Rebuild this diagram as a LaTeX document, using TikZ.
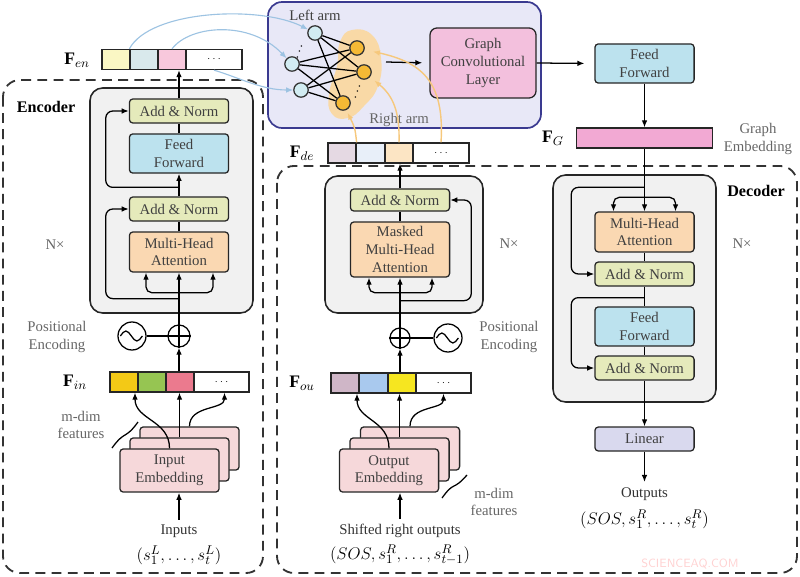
\documentclass[tikz,border=0pt]{standalone}
\usepackage{fontspec}
\setmainfont{Liberation Serif}
\usetikzlibrary{arrows.meta,calc}

\definecolor{addc}{HTML}{E5EABB}
\definecolor{ffc}{HTML}{BCE2EE}
\definecolor{mhac}{HTML}{FAD8B2}
\definecolor{embc}{HTML}{F6D8DA}
\definecolor{linc}{HTML}{D9D9EE}
\definecolor{gclc}{HTML}{F3C0DD}
\definecolor{fgc}{HTML}{F2A9D3}
\definecolor{grayc}{HTML}{F1F1F1}
\definecolor{graphc}{HTML}{E8E8F7}
\definecolor{graphb}{HTML}{3A3A90}
\definecolor{lac}{HTML}{D2ECF2}
\definecolor{rac}{HTML}{F5B935}
\definecolor{haloc}{HTML}{F9D9A6}
\definecolor{bluec}{HTML}{9DC3E2}
\definecolor{orgc}{HTML}{F6C87C}
\definecolor{en1c}{HTML}{FAF7C4}
\definecolor{en2c}{HTML}{D9E9EC}
\definecolor{en3c}{HTML}{F8C8DC}
\definecolor{in1c}{HTML}{F3C916}
\definecolor{in2c}{HTML}{96C552}
\definecolor{in3c}{HTML}{EB7A8E}
\definecolor{de1c}{HTML}{E5D9E3}
\definecolor{de2c}{HTML}{E8EFF9}
\definecolor{de3c}{HTML}{FCE5C4}
\definecolor{ou1c}{HTML}{CFB6C7}
\definecolor{ou2c}{HTML}{A9C9EE}
\definecolor{ou3c}{HTML}{F6E620}

\tikzset{
  blk/.style={draw=black!85, line width=0.9pt, rounded corners=2.5pt, minimum width=2.48cm,
    align=center, text=black!75, font=\fontsize{10.5}{12.5}\selectfont, inner sep=1pt},
  addn/.style={blk, fill=addc, minimum height=0.6cm},
  ffw/.style={blk, fill=ffc, minimum height=0.98cm},
  mha/.style={blk, fill=mhac, minimum height=1cm},
  emb/.style={blk, fill=embc, minimum height=1.08cm},
  fcell/.style={draw=black!85, line width=0.9pt, minimum width=0.7cm, minimum height=0.5cm,
    inner sep=0pt, font=\scriptsize},
  arr/.style={-{Latex[length=5pt,width=4pt]}, line width=0.9pt},
  ln/.style={line width=0.9pt},
  lbl/.style={text=black!60, align=center, font=\fontsize{10.5}{12.5}\selectfont},
  fvec/.style={font=\fontsize{12.5}{15}\selectfont, inner sep=0pt},
  dashreg/.style={draw=black!80, line width=1.3pt, dash pattern=on 7pt off 4.5pt, rounded corners=12pt},
  grayblk/.style={draw=black!85, line width=1.1pt, fill=grayc, rounded corners=9pt},
  larm/.style={circle, draw=black!80, line width=0.9pt, fill=lac, minimum size=0.36cm, inner sep=0pt},
  rarm/.style={larm, fill=rac},
  bluearr/.style={-{Latex[length=5pt,width=4pt]}, draw=bluec, line width=0.8pt},
  orgarr/.style={-{Latex[length=5pt,width=4pt]}, draw=orgc, line width=1pt},
  pe/.style={circle, draw, line width=0.9pt, inner sep=0pt}
}

\begin{document}
\begin{tikzpicture}[x=0.025cm, y=-0.025cm]
        \useasboundingbox (0,0) rectangle (800,577);

        \draw[dashreg] (3,80) rectangle (263,573);
        \draw[dashreg] (277,166) rectangle (797,573);

        \draw[grayblk] (90,88) rectangle (253,313);
        \draw[grayblk] (325,176) rectangle (483,313);
        \draw[grayblk] (553,175) rectangle (716,402);

        \draw[graphb, fill=graphc, line width=1.2pt, rounded corners=10pt] (268,2) rectangle (541,128);
        \fill[haloc] plot[smooth cycle, tension=0.8] coordinates {(352,30) (372,35) (381,58) (378,86) (364,106) (348,118) (332,114) (329,94) (337,66) (340,42)};

        \begin{scope}[every node/.style={larm}]
          \node (l1) at (315,33) {};
          \node (l2) at (292,64) {};
          \node (l3) at (301,90) {};
        \end{scope}
        \begin{scope}[every node/.style={rarm}]
          \node (r1) at (357,48) {};
          \node (r2) at (364,72) {};
          \node (r3) at (343,103) {};
        \end{scope}
        \foreach \a in {l1,l2,l3}
          \foreach \b in {r1,r2,r3}
            \draw[ln] (\a) -- (\b);
        \node[rotate=-20] (d1) at (301,48) {\small$\vdots$};
        \node[rotate=-20] (d2) at (359,88) {\small$\vdots$};
        \node[lbl, text=black!75] (lt) at (315,15) {Left arm};
        \node[lbl] (rt) at (399,120) {Right arm};

        \node[blk, fill=gclc, minimum width=2.65cm, minimum height=1.75cm, rounded corners=5pt] (gcl) at (483,63) {Graph\\Convolutional\\Layer};
        \coordinate (gout) at (386,62);

        % encoder
        \node[addn] (an1) at (179,111) {Add \& Norm};
        \node[ffw]  (ff1) at (179,153.5) {Feed\\Forward};
        \node[addn] (an2) at (179,209) {Add \& Norm};
        \node[mha]  (mh1) at (179,252) {Multi-Head\\Attention};
        \node[pe, minimum size=0.55cm] (pl1) at (179,336) {};
        \node[pe, minimum size=0.7cm]  (si1) at (132,336) {};

        \begin{scope}[every node/.style={fcell}]
          \node[fill=en1c] (en1) at (116,59.5) {};
          \node[fill=en2c] (en2) at (144,59.5) {};
          \node[fill=en3c] (en3) at (172,59.5) {};
          \node[fill=white, minimum width=1.4cm] (en4) at (214,59.5) {$\cdots$};
          \node[fill=in1c] (in1) at (124,382) {};
          \node[fill=in2c] (in2) at (152,382) {};
          \node[fill=in3c] (in3) at (180,382) {};
          \node[fill=white, minimum width=1.375cm] (in4) at (221.5,382) {$\cdots$};
        \end{scope}
        \node[fvec] (enl) at (77,60) {$\mathbf{F}_{en}$};
        \node[fvec] (inl2) at (75,382) {$\mathbf{F}_{in}$};

        \begin{scope}[every node/.style={emb}]
          \node (eb3) at (189.5,448.5) {};
          \node (eb2) at (179.5,459.5) {};
          \node (eb1) at (169.5,470.5) {Input\\Embedding};
        \end{scope}

        \node[font=\bfseries\fontsize{11.5}{13}\selectfont] (encl) at (46,107) {Encoder};
        \node[lbl] (nx1) at (55,245) {N×};
        \node[lbl] (pe1) at (57,337) {Positional\\Encoding};
        \node[lbl] (md1) at (81,425) {m-dim\\features};
        \node[lbl, text=black!80] (inl) at (179,531) {Inputs};
        \node[fvec] (inm) at (179,555) {$(s_1^L,\ldots,s_t^L)$};

        \draw[arr] (inl.north) -- (inl.north |- eb1.south);
        \draw[arr] (eb1.north) .. controls (169.5,420) and (135,420) .. ($(in1.south)+(11,0)$);
        \draw[arr] (eb2.north) -- (eb2.north |- in3.south);
        \draw[arr] (eb3.north) .. controls (189.5,405) and (224.5,410) .. ($(in4.south)+(3,0)$);
        \draw[ln] (112,448) .. controls (125,430) and (125,440) .. (138,422);
        \draw[arr] (pl1.south |- in3.north) -- (pl1);
        \draw[ln] (pl1.north) -- (pl1.south) (pl1.west) -- (pl1.east);
        \draw[ln] (si1) -- (pl1);
        \draw[ln] ($(si1.west)+(3,0)$) sin ++(5.5,-5) cos ++(5.5,5) sin ++(5.5,5) cos ++(5.5,-5);
        \draw[arr] (pl1) -- (mh1);
        \draw[arr, rounded corners=4pt] ($(mh1.south)+(0,20)$) -| ($(mh1.south)+(-33,0)$);
        \draw[arr, rounded corners=4pt] ($(mh1.south)+(0,20)$) -| ($(mh1.south)+(34,0)$);
        \draw[arr, rounded corners=5pt] ($(mh1.south)+(0,26)$) -| ($(an2.west)+(-23,0)$) -- (an2.west);
        \draw[ln] (mh1) -- (an2);
        \draw[arr] (an2) -- (ff1);
        \draw[arr, rounded corners=5pt] ($(an2.north)+(0,-9)$) -| ($(an1.west)+(-23,0)$) -- (an1.west);
        \draw[ln] (ff1) -- (an1);
        \draw[arr] (an1.north) -- (an1.north |- en3.south);

        % middle decoder
        \node[addn, minimum height=0.55cm] (an3) at (400,200) {Add \& Norm};
        \node[mha, minimum height=1.375cm] (mm1) at (400,249.5) {Masked\\Multi-Head\\Attention};
        \node[pe, minimum size=0.5cm] (pl2) at (400,338) {};
        \node[pe, minimum size=0.7cm] (si2) at (448,338) {};

        \begin{scope}[every node/.style={fcell}]
          \node[fill=de1c] (de1) at (342,153) {};
          \node[fill=de2c] (de2) at (370.5,153) {};
          \node[fill=de3c] (de3) at (399,153) {};
          \node[fill=white, minimum width=1.4cm] (de4) at (441,153) {$\cdots$};
          \node[fill=ou1c] (ou1) at (345,383) {};
          \node[fill=ou2c] (ou2) at (373.5,383) {};
          \node[fill=ou3c] (ou3) at (402,383) {};
          \node[fill=white, minimum width=1.375cm] (ou4) at (443.5,383) {$\cdots$};
        \end{scope}
        \node[fvec] (del) at (302,153) {$\mathbf{F}_{de}$};
        \node[fvec] (oul) at (302,383) {$\mathbf{F}_{ou}$};

        \begin{scope}[every node/.style={emb}]
          \node (ob3) at (410,448.5) {};
          \node (ob2) at (399.5,459.5) {};
          \node (ob1) at (389,470.5) {Output\\Embedding};
        \end{scope}

        \node[lbl] (nx2) at (509,244) {N×};
        \node[lbl] (pe2) at (509,337) {Positional\\Encoding};
        \node[lbl] (md2) at (494,502) {m-dim\\features};
        \node[lbl, text=black!80] (sro) at (400,531) {Shifted right outputs};
        \node[fvec] (srm) at (400,555) {$(SOS,s_1^R,\ldots,s_{t-1}^R)$};

        \draw[arr] (sro.north) -- (sro.north |- ob1.south);
        \draw[arr] (ob1.north) .. controls (389,420) and (357,420) .. ($(ou1.south)+(12,0)$);
        \draw[arr] (ob2.north) -- (ob2.north |- ou3.south);
        \draw[arr] (ob3.north) .. controls (410,405) and (443.5,410) .. (ou4.south);
        \draw[ln] (442,498) .. controls (455,480) and (452,492) .. (467,475);
        \draw[arr] (pl2.south |- ou3.north) -- (pl2);
        \draw[ln] (pl2.north) -- (pl2.south) (pl2.west) -- (pl2.east);
        \draw[ln] (pl2) -- (si2);
        \draw[ln] ($(si2.west)+(3,0)$) sin ++(5.5,-5) cos ++(5.5,5) sin ++(5.5,5) cos ++(5.5,-5);
        \draw[arr] (pl2) -- (mm1);
        \draw[arr, rounded corners=4pt] ($(mm1.south)+(0,15)$) -| ($(mm1.south)+(-31,0)$);
        \draw[arr, rounded corners=4pt] ($(mm1.south)+(0,15)$) -| ($(mm1.south)+(32,0)$);
        \draw[arr, rounded corners=5pt] ($(mm1.south)+(0,23)$) -| ($(an3.east)+(21,0)$) -- (an3.east);
        \draw[ln] (mm1) -- (an3);
        \draw[arr] (an3.north) -- (an3.north |- de3.south);

        % right decoder
        \node[ffw] (ff2) at (644.5,63.5) {Feed\\Forward};
        \node[fcell, fill=fgc, minimum width=3.4cm] (fg) at (644.5,138) {};
        \node[fvec] (fgl) at (553,138) {$\mathbf{F}_G$};
        \node[lbl] (gel) at (758,139) {Graph\\Embedding};
        \node[mha]  (mh2) at (644.5,232) {Multi-Head\\Attention};
        \node[addn] (an4) at (644.5,274) {Add \& Norm};
        \node[ffw]  (ff3) at (644.5,326.5) {Feed\\Forward};
        \node[addn] (an5) at (644.5,368) {Add \& Norm};
        \node[blk, fill=linc, minimum height=0.6cm] (li) at (644.5,439) {Linear};
        \coordinate (oend) at (644.5,482);
        \node[font=\bfseries\fontsize{11.5}{13}\selectfont] (decl) at (756,191) {Decoder};
        \node[lbl] (nx3) at (742,244) {N×};
        \node[lbl, text=black!80] (outl) at (644.5,494) {Outputs};
        \node[fvec] (outm) at (644.5,519) {$(SOS,s_1^R,\ldots,s_t^R)$};

        \draw[arr, shorten >=5pt] (gout) -- (gcl.west);
        \draw[arr, shorten >=7pt] (gcl.east) -- (ff2.west);
        \draw[arr] (ff2) -- (fg);
        \draw[arr] (fg) -- (mh2);
        \draw[arr, rounded corners=4pt] ($(mh2.north)+(0,-14)$) -| ($(mh2.north)+(-31,0)$);
        \draw[arr, rounded corners=4pt] ($(mh2.north)+(0,-14)$) -| ($(mh2.north)+(31,0)$);
        \draw[arr, rounded corners=5pt] ($(mh2.north)+(0,-24)$) -| ($(an4.west)+(-23,0)$) -- (an4.west);
        \draw[ln] (mh2) -- (an4);
        \draw[ln] (an4) -- (ff3);
        \draw[ln] (ff3) -- (an5);
        \draw[arr, rounded corners=5pt] ($(an4.south)+(0,11)$) -| ($(an5.west)+(-23,0)$) -- (an5.west);
        \draw[arr] (an5) -- (li);
        \draw[arr] (li) -- (oend);

        % arms
        \draw[bluearr] (en2.north west) .. controls (150,10) and (260,5) .. (l1);
        \draw[bluearr] (en3.north) .. controls (190,25) and (250,20) .. (l2);
        \draw[bluearr] (en4.south) .. controls (240,78) and (262,90) .. (l3);
        \draw[orgarr, shorten >=2pt] (de1.north east) .. controls (355,128) .. (r3);
        \draw[orgarr, shorten >=4pt] (de3.north) .. controls (400,110) and (392,95) .. (r2);
        \draw[orgarr, shorten >=6pt] (de4.north) .. controls (445,80) and (420,62) .. (r1);

        \node[text=pink!70, font=\sffamily\fontsize{8.5}{9}\selectfont] (wm) at (690,564) {SCIENCEAQ.COM};

\end{tikzpicture}
\end{document}
